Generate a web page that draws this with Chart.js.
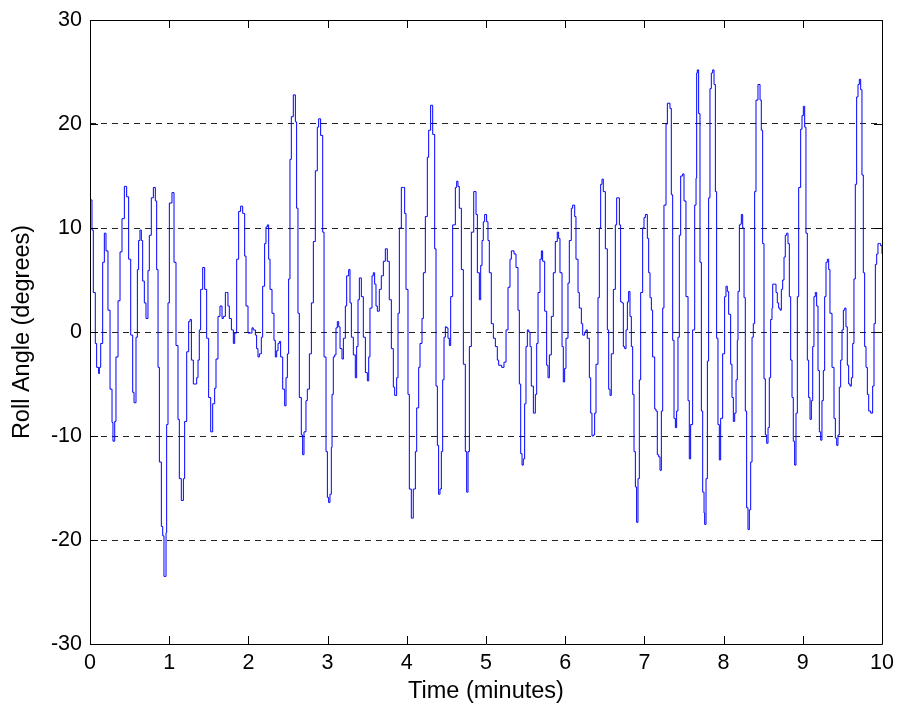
<!DOCTYPE html>
<html>
<head>
<meta charset="utf-8">
<title>Roll Angle</title>
<script src="https://cdn.jsdelivr.net/npm/chart.js@4.4.1/dist/chart.umd.min.js"></script>
<style>
  html, body { margin: 0; padding: 0; background: #fff; }
  #wrap { width: 898px; height: 706px; }
</style>
</head>
<body>
<div id="wrap"><canvas id="rollChart" width="898" height="706"></canvas></div>
<script>
// time in minutes
var timeMin = [
  0.000, 0.013, 0.025, 0.042, 0.067, 0.084, 0.109, 0.118, 0.135, 0.160,
  0.181, 0.202, 0.227, 0.253, 0.278, 0.290, 0.312, 0.328, 0.354, 0.379,
  0.404, 0.434, 0.463, 0.488, 0.514, 0.539, 0.556, 0.581, 0.598, 0.614,
  0.631, 0.648, 0.665, 0.686, 0.707, 0.732, 0.749, 0.774, 0.800, 0.825,
  0.842, 0.859, 0.876, 0.901, 0.918, 0.934, 0.950, 0.960, 0.968, 0.985,
  1.002, 1.035, 1.061, 1.086, 1.111, 1.128, 1.153, 1.179, 1.195, 1.221,
  1.246, 1.263, 1.280, 1.305, 1.322, 1.347, 1.364, 1.380, 1.397, 1.423,
  1.448, 1.473, 1.498, 1.524, 1.549, 1.574, 1.591, 1.616, 1.641, 1.667,
  1.684, 1.709, 1.726, 1.742, 1.759, 1.785, 1.810, 1.827, 1.852, 1.877,
  1.902, 1.928, 1.953, 1.970, 1.995, 2.020, 2.045, 2.062, 2.088, 2.104,
  2.121, 2.138, 2.163, 2.180, 2.205, 2.222, 2.239, 2.256, 2.273, 2.298,
  2.323, 2.340, 2.357, 2.374, 2.391, 2.407, 2.433, 2.458, 2.475, 2.492,
  2.508, 2.525, 2.542, 2.567, 2.593, 2.609, 2.626, 2.643, 2.668, 2.685,
  2.702, 2.727, 2.744, 2.770, 2.795, 2.820, 2.845, 2.870, 2.887, 2.912,
  2.938, 2.955, 2.980, 2.997, 3.013, 3.030, 3.047, 3.056, 3.072, 3.089,
  3.106, 3.123, 3.140, 3.157, 3.182, 3.199, 3.224, 3.241, 3.266, 3.283,
  3.300, 3.325, 3.350, 3.367, 3.384, 3.401, 3.426, 3.451, 3.477, 3.502,
  3.519, 3.535, 3.561, 3.577, 3.594, 3.611, 3.628, 3.653, 3.678, 3.704,
  3.729, 3.754, 3.779, 3.805, 3.830, 3.847, 3.872, 3.889, 3.906, 3.931,
  3.956, 3.973, 3.990, 4.015, 4.032, 4.057, 4.070, 4.082, 4.108, 4.125,
  4.150, 4.167, 4.192, 4.209, 4.234, 4.259, 4.276, 4.301, 4.327, 4.352,
  4.369, 4.386, 4.402, 4.419, 4.436, 4.453, 4.470, 4.487, 4.503, 4.520,
  4.537, 4.554, 4.579, 4.613, 4.630, 4.646, 4.663, 4.689, 4.714, 4.739,
  4.756, 4.773, 4.790, 4.815, 4.845, 4.874, 4.891, 4.916, 4.933, 4.950,
  4.966, 4.983, 5.008, 5.025, 5.042, 5.067, 5.093, 5.118, 5.143, 5.160,
  5.198, 5.227, 5.253, 5.278, 5.303, 5.320, 5.354, 5.379, 5.404, 5.421,
  5.438, 5.455, 5.471, 5.488, 5.505, 5.522, 5.539, 5.556, 5.572, 5.598,
  5.623, 5.640, 5.657, 5.682, 5.699, 5.715, 5.741, 5.766, 5.783, 5.800,
  5.825, 5.850, 5.875, 5.900, 5.917, 5.934, 5.960, 5.976, 5.993, 6.010,
  6.035, 6.052, 6.077, 6.094, 6.120, 6.136, 6.162, 6.178, 6.204, 6.221,
  6.246, 6.263, 6.279, 6.305, 6.322, 6.338, 6.355, 6.372, 6.389, 6.414,
  6.431, 6.448, 6.465, 6.481, 6.507, 6.532, 6.549, 6.566, 6.582, 6.608,
  6.633, 6.650, 6.667, 6.684, 6.700, 6.717, 6.734, 6.751, 6.768, 6.785,
  6.801, 6.818, 6.835, 6.852, 6.869, 6.886, 6.902, 6.919, 6.936, 6.953,
  6.978, 6.995, 7.012, 7.037, 7.054, 7.071, 7.088, 7.104, 7.130, 7.146,
  7.163, 7.180, 7.197, 7.214, 7.231, 7.247, 7.273, 7.290, 7.310, 7.323,
  7.340, 7.357, 7.374, 7.391, 7.407, 7.424, 7.441, 7.458, 7.483, 7.500,
  7.525, 7.551, 7.567, 7.584, 7.609, 7.635, 7.652, 7.660, 7.668, 7.685,
  7.702, 7.719, 7.736, 7.753, 7.761, 7.778, 7.795, 7.811, 7.828, 7.845,
  7.862, 7.879, 7.896, 7.912, 7.929, 7.946, 7.963, 7.988, 8.013, 8.030,
  8.047, 8.064, 8.089, 8.106, 8.123, 8.140, 8.157, 8.173, 8.182, 8.199,
  8.215, 8.224, 8.241, 8.258, 8.274, 8.291, 8.308, 8.325, 8.342, 8.359,
  8.375, 8.392, 8.409, 8.434, 8.460, 8.476, 8.493, 8.510, 8.527, 8.544,
  8.561, 8.577, 8.594, 8.611, 8.620, 8.645, 8.662, 8.678, 8.695, 8.712,
  8.729, 8.746, 8.763, 8.779, 8.796, 8.813, 8.830, 8.847, 8.864, 8.880,
  8.897, 8.914, 8.931, 8.948, 8.973, 8.990, 9.007, 9.024, 9.040, 9.057,
  9.074, 9.091, 9.108, 9.125, 9.141, 9.158, 9.175, 9.192, 9.209, 9.226,
  9.242, 9.259, 9.276, 9.293, 9.310, 9.327, 9.343, 9.369, 9.394, 9.411,
  9.428, 9.444, 9.461, 9.478, 9.495, 9.512, 9.529, 9.545, 9.562, 9.579,
  9.596, 9.613, 9.630, 9.646, 9.663, 9.680, 9.697, 9.714, 9.731, 9.747,
  9.764, 9.781, 9.798, 9.815, 9.832, 9.857, 9.882, 9.899, 9.916, 9.933,
  9.949, 9.966, 9.983, 10.0
];

// roll angle in degrees, same order as timeMin
var rollDeg = [
  12.7, 12.7, 9.8, 3.8, -1.1, -3.4, -4.0, -3.4, -1.1, 6.7,
  9.5, 7.8, 2.1, -5.5, -8.7, -10.5, -8.6, -2.4, 3.0, 7.7,
  10.9, 14.0, 13.0, 7.0, -0.3, -5.8, -6.8, -0.5, 6.0, 8.8,
  9.8, 8.8, 4.9, 2.8, 1.3, 5.9, 9.3, 12.9, 13.9, 12.6,
  6.0, -3.4, -12.5, -18.7, -19.6, -23.5, -23.5, -19.3, -8.9, 2.8,
  12.4, 13.4, 6.7, -1.3, -8.4, -14.1, -16.2, -14.1, -8.6, -1.9,
  1.0, 1.2, -2.7, -5.0, -5.0, -4.4, -2.7, 0.2, 4.1, 6.2,
  4.1, -0.6, -6.3, -9.6, -6.9, -5.4, -2.6, 1.5, 2.5, 1.3,
  1.5, 3.8, 3.8, 2.5, 1.3, 0.2, -1.1, -0.1, 7.0, 11.6,
  12.1, 11.4, 7.3, 2.5, -0.1, -0.1, 0.4, 0.2, -0.3, -1.6,
  -2.4, -2.1, -0.5, 4.4, 8.5, 10.1, 10.3, 7.0, 4.1, 1.8,
  -0.8, -2.4, -1.8, -1.1, -0.9, -2.4, -5.5, -7.1, -4.4, -2.1,
  5.1, 16.6, 20.7, 22.8, 20.2, 11.9, 1.8, -6.3, -9.9, -11.8,
  -9.6, -6.6, -5.5, -2.1, 2.8, 8.7, 15.5, 19.7, 20.5, 18.9,
  9.6, -2.4, -11.5, -15.9, -16.4, -15.6, -11.1, -6.0, -2.4, -2.2,
  0.4, 1.0, 0.5, -1.6, -2.6, -0.6, 2.5, 5.4, 6.0, 2.8,
  -0.5, -2.2, -4.4, -1.4, 3.1, 5.2, 3.4, -0.5, -3.9, -4.7,
  -2.4, 2.3, 5.4, 5.7, 4.6, 2.5, 2.0, 4.1, 5.4, 6.8,
  8.0, 6.8, 3.1, -1.6, -5.3, -6.1, -4.4, 1.8, 10.0, 13.9,
  13.9, 11.4, 4.1, -6.0, -15.1, -17.9, -17.9, -15.1, -11.5, -7.3,
  -3.4, -1.1, 1.3, 5.7, 11.1, 16.8, 19.4, 21.8, 19.0, 8.0,
  -5.2, -10.9, -15.6, -15.1, -11.5, -4.6, -0.5, 0.5, 0.4, -0.6,
  -1.3, 3.4, 10.3, 13.9, 14.5, 14.0, 11.9, 6.0, -3.1, -11.5,
  -15.4, -11.5, -1.4, 9.6, 13.5, 11.3, 5.7, 3.1, 6.4, 8.8,
  10.6, 11.3, 10.6, 8.8, 5.7, 0.8, -0.6, -1.4, -2.7, -3.2,
  -3.4, -2.9, 0.2, 4.3, 7.0, 7.8, 7.5, 6.2, 2.1, -5.0,
  -11.7, -12.8, -12.2, -6.9, -1.4, 0.2, 0.0, -1.4, -5.2, -7.8,
  -6.0, -1.1, 3.8, 7.0, 7.8, 6.8, 2.0, -3.2, -4.4, -2.2,
  1.5, 5.7, 8.7, 9.6, 9.0, 5.7, -1.4, -4.8, -3.5, -0.6,
  4.7, 8.8, 11.9, 12.2, 11.1, 7.0, 3.8, 2.3, 0.8, -0.3,
  0.0, 0.2, -0.6, -4.4, -7.8, -10.0, -9.9, -7.8, -3.1, 3.3,
  10.0, 14.2, 14.7, 13.5, 8.0, 0.2, -5.5, -6.1, -2.1, 4.1,
  10.3, 12.9, 12.9, 10.3, 2.9, 2.8, -1.4, -1.6, 0.2, 2.9,
  3.9, 1.5, -1.4, -6.0, -11.5, -14.9, -18.3, -14.1, -4.6, 3.8,
  10.0, 11.0, 11.3, 9.0, 5.7, 3.3, 2.1, -2.4, -7.4, -7.6,
  -11.8, -12.0, -13.3, -7.6, 2.3, 12.2, 20.0, 22.0, 22.0, 21.5,
  13.2, -0.8, -8.3, -9.2, -7.6, -0.5, 9.3, 15.0, 15.2, 12.6,
  3.4, -6.6, -12.2, -8.9, 0.2, 12.2, 14.8, 24.9, 25.2, 21.0,
  6.7, -7.6, -15.4, -17.4, -18.5, -14.1, -2.8, 12.9, 23.4, 24.9,
  25.2, 23.8, 13.5, -0.6, -8.9, -12.3, -8.3, -2.1, 3.4, 4.4,
  3.9, 1.7, -3.1, -6.3, -8.6, -7.8, -4.6, -0.8, 3.9, 10.3,
  10.4, 11.3, 10.0, 3.3, -7.6, -16.9, -19.0, -17.1, -12.5, -0.5,
  0.8, 13.5, 22.3, 23.8, 22.3, 19.4, 8.5, -4.5, -9.9, -10.7,
  -9.2, -4.4, 1.2, 2.3, 4.6, 4.6, 3.8, 2.8, 2.3, 2.1,
  4.1, 5.0, 7.2, 9.3, 9.5, 8.5, 3.4, -2.7, -6.3, -10.5,
  -12.8, -7.8, 3.4, 13.9, 19.5, 20.8, 21.7, 19.7, 9.5, -2.7,
  -6.3, -8.4, -6.6, -1.4, 3.4, 3.8, 2.5, -3.7, -9.6, -10.4,
  -6.6, -3.7, 3.4, 6.7, 7.0, 6.0, 1.8, -3.4, -8.3, -10.2,
  -10.9, -9.9, -5.3, -2.7, 0.2, 2.1, 2.3, 0.5, -3.2, -5.0,
  -5.2, -4.4, -1.1, 5.1, 14.2, 22.6, 23.8, 24.3, 23.3, 15.1,
  5.7, -1.4, -3.4, -6.0, -7.6, -7.8, -5.2, 0.8, 6.5, 7.5,
  8.5, 8.5, 8.3, 7.5
];

var xTicks = [0, 1, 2, 3, 4, 5, 6, 7, 8, 9, 10];
var yTicks = [30, 20, 10, 0, -10, -20, -30];

var fontFamily = '"Liberation Sans", Arial, sans-serif';

// matlab style box with inward tick marks
var boxFrame = {
    id: 'boxFrame',
    afterDatasetsDraw: function(chart) {
        var ctx = chart.ctx;
        var a = chart.chartArea;
        var xs = chart.scales.x, ys = chart.scales.y;
        var len = 8;
        ctx.save();
        ctx.strokeStyle = '#000';
        ctx.lineWidth = 1;
        ctx.beginPath();
        ctx.rect(Math.round(a.left) + 0.5, Math.round(a.top) + 0.5,
                 Math.round(a.right - a.left), Math.round(a.bottom - a.top));
        xTicks.forEach(function(v) {
            var px = Math.round(xs.getPixelForValue(v)) + 0.5;
            ctx.moveTo(px, a.bottom); ctx.lineTo(px, a.bottom - len);
            ctx.moveTo(px, a.top); ctx.lineTo(px, a.top + len);
        });
        yTicks.forEach(function(v) {
            var py = Math.round(ys.getPixelForValue(v)) + 0.5;
            ctx.moveTo(a.left, py); ctx.lineTo(a.left + len, py);
            ctx.moveTo(a.right, py); ctx.lineTo(a.right - len, py);
        });
        ctx.stroke();
        ctx.restore();
    }
};

document.addEventListener("DOMContentLoaded", function() {
    var points = timeMin.map(function(t, i) { return {x: t, y: rollDeg[i]}; });
    var ctx = document.getElementById('rollChart').getContext('2d');

    new Chart(ctx, {
        type: 'line',
        data: {
            datasets: [{
                label: 'Roll Angle',
                data: points,
                borderColor: '#0000ff',
                borderWidth: 1,
                pointRadius: 0,
                stepped: true,
                fill: false
            }]
        },
        options: {
            responsive: false,
            animation: false,
            layout: { padding: { top: 20, right: 16, bottom: 0, left: 0 } },
            plugins: {
                legend: { display: false },
                tooltip: { enabled: false }
            },
            scales: {
                x: {
                    type: 'linear',
                    min: 0,
                    max: 10,
                    afterFit: function(s) {
                        s.height = 62;
                        s.paddingLeft = 0;
                        s.paddingRight = 0;
                    },
                    afterBuildTicks: function(s) { s.ticks = xTicks.map(function(v) { return {value: v}; }); },
                    grid: { display: false, drawTicks: false },
                    border: { display: false },
                    ticks: {
                        autoSkip: false,
                        maxRotation: 0,
                        padding: 6,
                        color: '#000',
                        font: { family: fontFamily, size: 21.5 }
                    },
                    title: {
                        display: true,
                        text: 'Time (minutes)',
                        color: '#000',
                        padding: { top: 0, bottom: 0 },
                        font: { family: fontFamily, size: 23.5 }
                    }
                },
                y: {
                    min: -30,
                    max: 30,
                    afterFit: function(s) {
                        s.width = 90;
                        s.paddingTop = 0;
                        s.paddingBottom = 0;
                    },
                    afterBuildTicks: function(s) { s.ticks = yTicks.map(function(v) { return {value: v}; }); },
                    grid: {
                        // no dashed line on the box edges
                        color: function(c) {
                            return (c.tick && Math.abs(c.tick.value) === 30) ? 'rgba(0,0,0,0)' : '#222';
                        },
                        lineWidth: 1,
                        drawTicks: false
                    },
                    border: { display: false, dash: [6, 5] },
                    ticks: {
                        autoSkip: false,
                        padding: 8,
                        color: '#000',
                        font: { family: fontFamily, size: 21.5 },
                        callback: function(v) { return String(v); }
                    },
                    title: {
                        display: true,
                        text: 'Roll Angle (degrees)',
                        color: '#000',
                        padding: { top: 8, bottom: 0 },
                        font: { family: fontFamily, size: 23.5 }
                    }
                }
            }
        },
        plugins: [boxFrame]
    });
});
</script>
</body>
</html>
